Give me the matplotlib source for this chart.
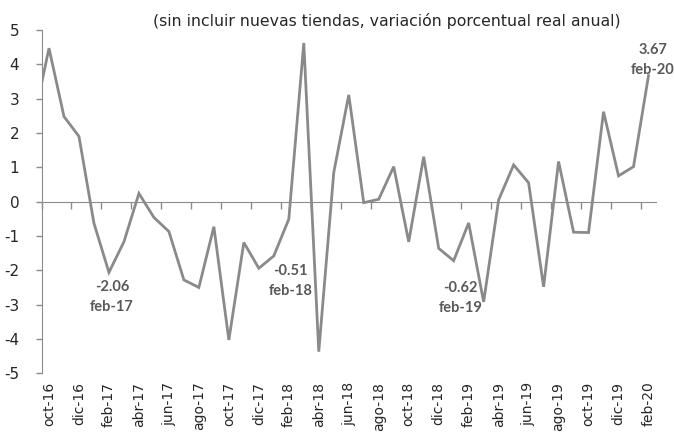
import matplotlib
matplotlib.use("Agg")
import matplotlib.pyplot as plt

# Monthly data: sep-16 (clipped at the left edge) through feb-20
months = ["sep-16",
          "oct-16", "nov-16", "dic-16", "ene-17", "feb-17", "mar-17", "abr-17", "may-17",
          "jun-17", "jul-17", "ago-17", "sep-17", "oct-17", "nov-17", "dic-17", "ene-18",
          "feb-18", "mar-18", "abr-18", "may-18", "jun-18", "jul-18", "ago-18", "sep-18",
          "oct-18", "nov-18", "dic-18", "ene-19", "feb-19", "mar-19", "abr-19", "may-19",
          "jun-19", "jul-19", "ago-19", "sep-19", "oct-19", "nov-19", "dic-19", "ene-20",
          "feb-20"]
values = [2.4,
          4.47, 2.48, 1.90, -0.63, -2.06, -1.17, 0.24, -0.46,
          -0.87, -2.28, -2.50, -0.73, -4.03, -1.19, -1.94, -1.58,
          -0.51, 4.62, -4.37, 0.85, 3.11, -0.03, 0.07, 1.02,
          -1.17, 1.31, -1.36, -1.72, -0.62, -2.92, 0.05, 1.07,
          0.55, -2.48, 1.17, -0.89, -0.90, 2.62, 0.75, 1.02,
          3.67]
annotated = ["feb-17", "feb-18", "feb-19", "feb-20"]
title_text = "(sin incluir nuevas tiendas, variación porcentual real anual)"
yticks = [-5, -4, -3, -2, -1, 0, 1, 2, 3, 4, 5]

GRAY_LINE = "#8a8a8a"
AXIS_GRAY = "#8c8c8c"
ANN_GRAY = "#595959"

fig = plt.figure(figsize=(6.74, 4.32), dpi=100)
ax = fig.add_axes([41.5 / 674, 1 - 373.3 / 432, (656 - 41.5) / 674, (373.3 - 30) / 432])

x = [i - 1 for i in range(len(values))]  # sep-16 at -1, oct-16 at 0
ax.plot(x, values, color=GRAY_LINE, lw=2.0, solid_joinstyle="miter", clip_on=True)

ax.set_xlim(-0.5, 40.5)
ax.set_ylim(-5, 5)

for s in ["top", "right"]:
    ax.spines[s].set_visible(False)
ax.spines["left"].set_color(AXIS_GRAY)
ax.spines["bottom"].set_color(AXIS_GRAY)
ax.spines["bottom"].set_position(("data", 0))

# boundary tick marks on the zero line
bounds = [b - 0.5 for b in range(0, 41, 2)]
ax.set_xticks(bounds)
ax.tick_params(axis="x", length=5, width=1, color=AXIS_GRAY, direction="out",
               labelbottom=False)

ax.set_yticks(yticks)
ax.set_yticklabels([str(v) for v in yticks])
ax.tick_params(axis="y", length=4, width=1, color=AXIS_GRAY, direction="out",
               pad=12, labelsize=11, labelcolor="#262626")

# category labels at the bottom
sec = ax.secondary_xaxis("bottom")
lab_pos = list(range(0, 41, 2))
sec.set_xticks(lab_pos)
sec.set_xticklabels([months[p + 1] for p in lab_pos], rotation=90, fontsize=10,
                    color="#262626")
sec.tick_params(length=0, pad=6)
sec.spines["bottom"].set_visible(False)

# annotations
offsets = {"feb-17": (0.2, -2.78), "feb-18": (0.1, -2.31), "feb-19": (-0.56, -2.81),
           "feb-20": (0.3, 4.13)}
for m in annotated:
    i = months.index(m)
    xi = i - 1
    ox, oy = offsets[m]
    ax.text(xi + ox, oy, f"{values[i]:.2f}\n{m}", ha="center", va="center",
            fontsize=10.5, fontweight="bold", color=ANN_GRAY, linespacing=1.5,
            clip_on=False, family="Lato")

fig.text(387 / 674, 1 - 21 / 432, title_text, ha="center", va="center",
         fontsize=11.3, color="#262626")

fig.savefig("out.png", dpi=100)
